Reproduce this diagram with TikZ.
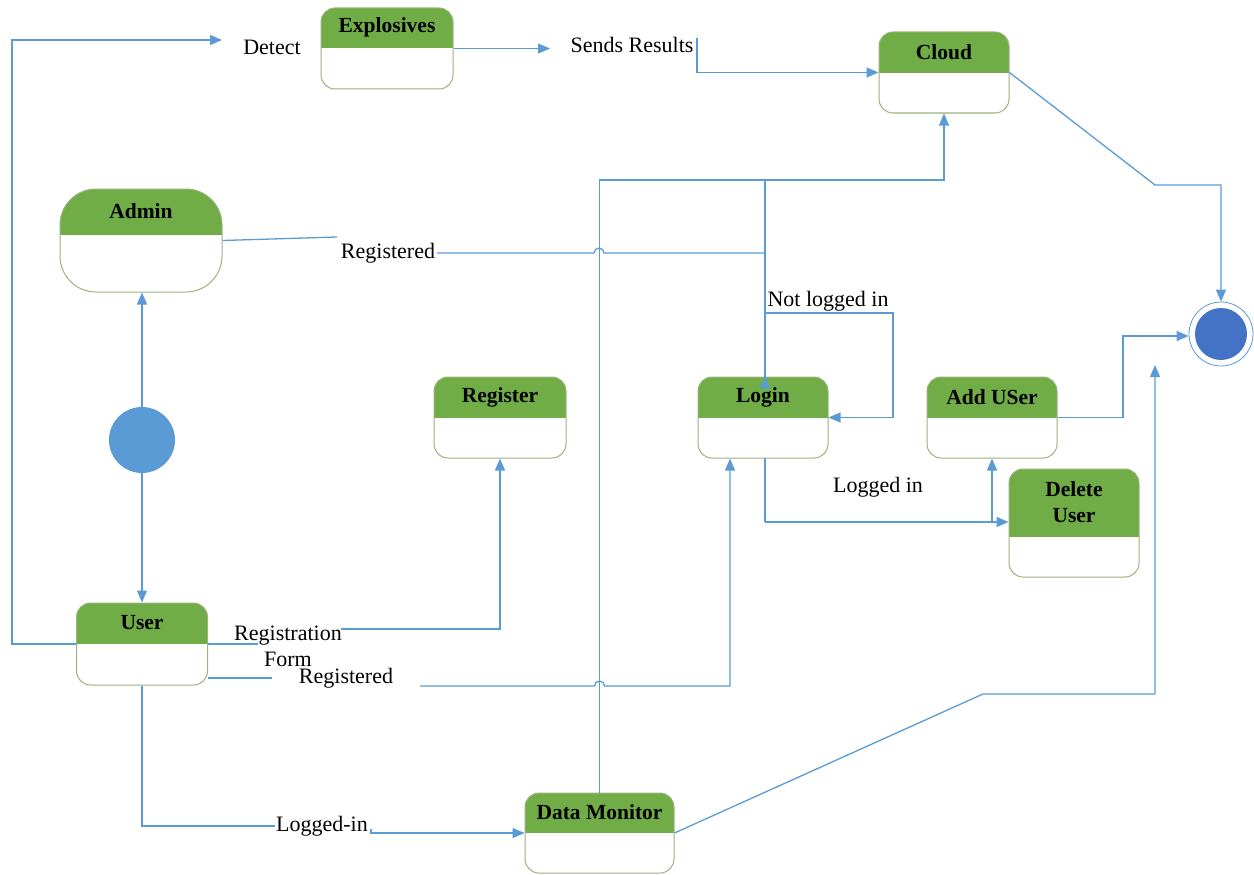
\documentclass[tikz,border=0pt]{standalone}
\usepackage{fontspec}
\setmainfont{Liberation Serif}
\usetikzlibrary{arrows.meta}
\definecolor{lnblue}{HTML}{5B9BD5}
\definecolor{hdrgreen}{HTML}{70AD47}
\definecolor{boxline}{HTML}{9DB27C}
\definecolor{finblue}{HTML}{4472C4}
\tikzset{
  stbase/.style={draw=boxline, line width=1pt, fill=white, inner sep=0pt, rectangle},
  ttl/.style={font=\fontsize{21.5}{24}\selectfont\bfseries, inner sep=0pt, align=center, text=black},
  lbl/.style={font=\fontsize{22}{26}\selectfont, inner sep=0pt, align=center},
  ln/.style={draw=lnblue, line width=1.3pt},
  arr/.style={ln, -{Triangle[length=12pt,width=10pt]}},
}
% name, cx, cy, w, h, header h, corner radius, title
\newcommand\stbox[8]{%
  \node[stbase, rounded corners=#7, minimum width=#4, minimum height=#5,
    path picture={\fill[hdrgreen, sharp corners] (path picture bounding box.north west) rectangle ([yshift=-#6]path picture bounding box.north east);}]
    (#1) at (#2,#3) {};
  \node[ttl] (#1-t) at ([yshift=-#6/2]#1.north) {#8};}
\begin{document}
\begin{tikzpicture}[x=1pt,y=-1pt]
\useasboundingbox (0,0) rectangle (1254,875);
% states
\stbox{expl}{387}{48.5}{132}{81}{40}{14pt}{Explosives}
\stbox{cloud}{944}{72.5}{130}{81}{41}{14pt}{Cloud}
\stbox{admin}{141}{240.5}{162}{103}{46}{36pt}{Admin}
\stbox{reg}{500}{417.5}{132}{81}{41}{14pt}{Register}
\stbox{login}{763}{417.5}{130}{81}{41}{14pt}{Login}
\stbox{adduser}{992}{417.5}{130}{81}{41}{14pt}{Add USer}
\stbox{deluser}{1074}{523}{130}{108}{68}{14pt}{Delete\\[2pt]User}
\stbox{user}{142}{644}{131}{82}{41}{14pt}{User}
\stbox{dmon}{599.5}{833}{149}{80}{40}{14pt}{Data Monitor}
% pseudo states
\node[circle, fill=lnblue, minimum size=66pt, inner sep=0pt] (init) at (142,440) {};
\node[circle, draw=lnblue, line width=0.8pt, fill=white, minimum size=64pt, inner sep=0pt] (final) at (1221,334) {};
\node[circle, fill=finblue, minimum size=52pt, inner sep=0pt] (finin) at (final) {};
% labels
\node[lbl] (detect) at (272,47) {Detect};
\node[lbl] (sends) at (632,45) {Sends Results};
\node[lbl] (regA) at (388,253) {Registered};
\node[lbl] (notlog) at (828,301) {Not logged in};
\node[lbl] (loggedin) at (878,487) {Logged in};
\node[lbl] (regform) at (288,646) {Registration\\Form};
\node[lbl] (regU) at (346,678) {Registered};
\node[lbl] (logged2) at (322,826) {Logged-in};
% free ends
\coordinate (detTip) at (222,40);
\coordinate (sendTip) at (550,48.5);
\coordinate (dmTip) at (1155,365);
% connectors
\draw[arr] (init.north) -- (init.north |- admin.south);
\draw[arr] (init.south) -- (init.south |- user.north);
\draw[arr] (user.west) -- (12,644) -- (12,40) -- (detTip);
\draw[arr] (expl.east) -- (sendTip);
\draw[arr] (697,38) -- (697,72.5) -- (cloud.west);
\draw[arr] (cloud.east) -- (1155,185) -- (1221,185) -- (final.north);
% admin registered
\draw[ln] (admin.east) -- (337,237);
\draw[ln] (437,253) -- (594,253) arc (180:0:5pt) -- (765,253);
% data monitor up to cloud
\draw[arr] (dmon.north) -- (599.5,180) -- (944,180) -- (cloud.south);
\draw[arr] (765,180) -- (765,377) -- (login.north -| 765,0);
% not logged in loop
\draw[arr] (765,313) -- (893,313) -- (893,417.5) -- (login.east);
% logged in
\draw[ln, line width=1.8pt] (765,458) -- (765,522);
\draw[arr, line width=1.8pt] (765,522) -- (deluser.west |- 0,522);
\draw[arr] (992,522) -- (adduser.south);
\draw[arr] (adduser.east) -- (1123,417.5) -- (1123,336) -- (final.west |- 0,336);
% user registration form
\draw[ln] (user.east) -- (258,644);
\draw[arr] (341,629) -- (500,629) -- (reg.south);
% user registered
\draw[ln] (208,678) -- (272,678);
\draw[arr] (420,686) -- (594.5,686) arc (180:0:5pt) -- (730,686) -- (login.south -| 730,0);
% logged-in to data monitor
\draw[ln] (user.south) -- (142,826) -- (275,826);
\draw[arr] (371,829) -- (371,833) -- (dmon.west);
% data monitor to final
\draw[arr] (dmon.east) -- (983,694) -- (1155,694) -- (dmTip);
\end{tikzpicture}
\end{document}
